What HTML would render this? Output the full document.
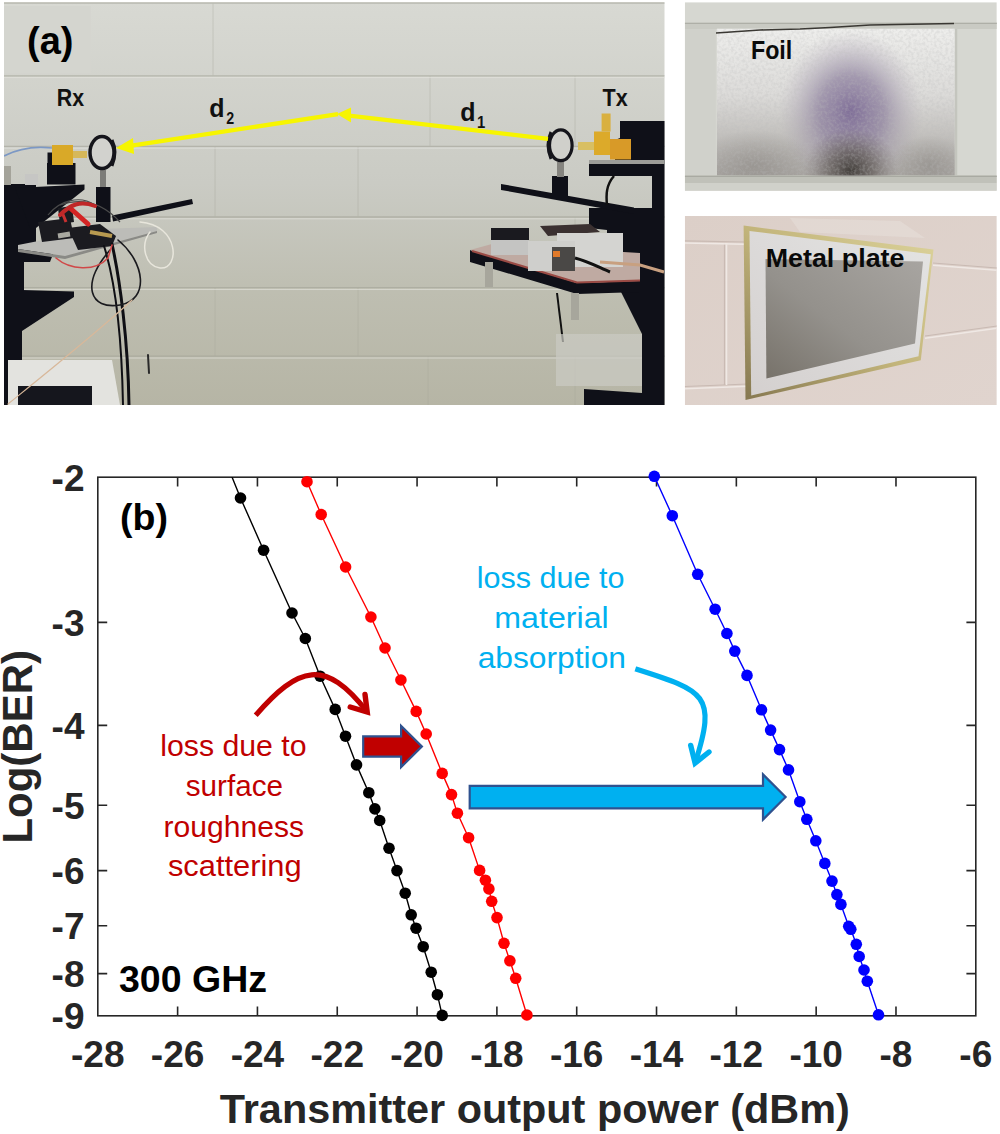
<!DOCTYPE html>
<html><head><meta charset="utf-8"><style>
html,body{margin:0;padding:0;background:#fff;overflow:hidden;}
svg{display:block;}
text{font-family:"Liberation Sans",sans-serif;}
</style></head><body>
<svg width="1000" height="1134" viewBox="0 0 1000 1134">
<defs><clipPath id="axclip"><rect x="97.8" y="477.2" width="878.0" height="538.5999999999999"/></clipPath></defs>
<defs>
 <linearGradient id="wallg" x1="0" y1="0" x2="0" y2="1">
  <stop offset="0" stop-color="#d8d9d3"/>
  <stop offset="0.45" stop-color="#cacbc4"/>
  <stop offset="0.72" stop-color="#bebeb1"/>
  <stop offset="1" stop-color="#b6b5a5"/>
 </linearGradient>
 <clipPath id="mainclip"><rect x="4" y="2" width="660.5" height="403"/></clipPath>
 <clipPath id="foilclip"><rect x="684.8" y="2.2" width="312" height="188.6"/></clipPath>
 <clipPath id="foilsheet"><rect x="716.8" y="28.4" width="238" height="147"/></clipPath>
 <clipPath id="plateclip"><rect x="684.8" y="216" width="312" height="189"/></clipPath>
 <radialGradient id="foilg" cx="0.55" cy="0.62" r="0.6" fx="0.56" fy="0.6">
  <stop offset="0" stop-color="#85789a"/>
  <stop offset="0.35" stop-color="#958aa2"/>
  <stop offset="0.7" stop-color="#b9b6b8"/>
  <stop offset="1" stop-color="#dcdcda"/>
 </radialGradient>
 <linearGradient id="foilbot" x1="0" y1="0" x2="0" y2="1">
  <stop offset="0" stop-color="#5a544c" stop-opacity="0"/>
  <stop offset="0.55" stop-color="#5a544c" stop-opacity="0"/>
  <stop offset="1" stop-color="#5a544c" stop-opacity="0.55"/>
 </linearGradient>
 <linearGradient id="metalg" x1="1" y1="0" x2="0" y2="1">
  <stop offset="0" stop-color="#a8a5a1"/>
  <stop offset="0.55" stop-color="#94918c"/>
  <stop offset="1" stop-color="#77726a"/>
 </linearGradient>
 <linearGradient id="platewall" x1="0" y1="0" x2="1" y2="1">
  <stop offset="0" stop-color="#dccfc8"/>
  <stop offset="1" stop-color="#e0d4ce"/>
 </linearGradient>
 <linearGradient id="foilbase" x1="0" y1="0" x2="0" y2="1">
  <stop offset="0" stop-color="#eeeeec"/>
  <stop offset="0.45" stop-color="#dcdbd9"/>
  <stop offset="1" stop-color="#a9a6a2"/>
 </linearGradient>
 <radialGradient id="foilpurple">
  <stop offset="0" stop-color="#7c6a96" stop-opacity="0.95"/>
  <stop offset="0.45" stop-color="#8a7c9c" stop-opacity="0.7"/>
  <stop offset="1" stop-color="#b0a8b4" stop-opacity="0"/>
 </radialGradient>
 <radialGradient id="foildark">
  <stop offset="0" stop-color="#3e3a36" stop-opacity="0.95"/>
  <stop offset="0.5" stop-color="#5c5650" stop-opacity="0.6"/>
  <stop offset="1" stop-color="#7a7470" stop-opacity="0"/>
 </radialGradient>
 <radialGradient id="foilgrey">
  <stop offset="0" stop-color="#8c8884" stop-opacity="0.6"/>
  <stop offset="1" stop-color="#8c8884" stop-opacity="0"/>
 </radialGradient>
 <filter id="foiltex" x="0" y="0" width="1" height="1">
  <feTurbulence type="fractalNoise" baseFrequency="0.35" numOctaves="2" seed="3"/>
  <feColorMatrix type="matrix" values="0 0 0 0 0.5  0 0 0 0 0.5  0 0 0 0 0.5  0 0 0 3 -1.2"/>
  <feComposite in2="SourceGraphic" operator="in"/>
 </filter>
 <linearGradient id="goldg" x1="1" y1="0" x2="0" y2="1">
  <stop offset="0" stop-color="#ddd49c"/>
  <stop offset="0.5" stop-color="#c2b47a"/>
  <stop offset="1" stop-color="#857750"/>
 </linearGradient>
 <linearGradient id="matg" x1="1" y1="0" x2="0" y2="1">
  <stop offset="0" stop-color="#e4e4e3"/>
  <stop offset="1" stop-color="#d4d0cf"/>
 </linearGradient>
</defs>

<!-- ===== MAIN PHOTO ===== -->
<g clip-path="url(#mainclip)">
 <rect x="4" y="2" width="661" height="403" fill="url(#wallg)"/>
 <!-- mortar lines -->
 <g stroke="#a3a498" stroke-width="1.3" fill="none" opacity="0.6">
  <path d="M4,3.2H665M4,75.8H665M4,146.4H665M4,217H665M4,287.6H665M4,356.2H665"/>
  <path d="M213,3V76M575,76V146M430,76V146M215,146V217M358,146V217M358,287V356M215,287V356M575,217V287M575,356V405M428,356V405" stroke-width="1" opacity="0.6"/>
 </g>
 <g stroke="#e2e3dd" stroke-width="1" fill="none" opacity="0.7">
  <path d="M4,77.6H665M4,148.2H665M4,218.8H665M4,289.4H665M4,358H665"/>
 </g>

 <rect x="4" y="6" width="86.7" height="67.2" fill="#d4d5cf"/>
 <!-- ===== Rx side ===== -->
 <g fill="#0f1018">
  <!-- left column -->
  <path d="M4,184 L36,184 L36,262 L24,262 L24,292 L22,292 L22,362 L11,362 L11,405 L4,405 Z"/>
  <!-- upper bracket -->
  <path d="M15,188 L84.5,184.5 L84.5,189.5 L36,228 L30,228 Z"/>
  <!-- under plate arm -->
  <path d="M4,249 L55,249 L50,262 L4,262 Z"/>
  <!-- lower bracket -->
  <path d="M22,290 L74,291.5 L74,297 L22,331 Z"/>
  <!-- mount under gold -->
  <rect x="47" y="163" width="28.5" height="21.5"/>
  <rect x="47.5" y="152.5" width="10" height="12"/>
  <!-- lens post -->
  <rect x="96" y="187" width="14.5" height="35"/>
  <!-- rail -->
  <path d="M112,215.5 L192,199 L193,204 L113,221.5 Z"/>

  <!-- breadboard -->
  <rect x="18" y="386" width="74" height="20"/>
 </g>
 <!-- white paper bottom -->
 <path d="M8,360 L112,360 L120,405 L8,405 Z" fill="#e3e3df"/>
 <rect x="18" y="386" width="74" height="20" fill="#15161d"/>
 <!-- plate -->
 <path d="M18,245 L100,229 L157,227 L157,231 L65,256 L18,249 Z" fill="#bcbcb8"/>
 <path d="M18,249 L65,256 L157,231 L157,233 L65,259 L18,252 Z" fill="#8a8a86"/>
 <!-- cluster on plate -->
 <g fill="#1b1b20">
  <path d="M38,222 L70,218 L74,238 L42,242 Z"/>
  <path d="M68,228 L100,224 L116,236 L112,246 L78,250 Z"/>
  <path d="M58,208 L72,206 L74,222 L60,224 Z"/>
 </g>
 <path d="M70,208 L88,224" stroke="#d42424" stroke-width="5" stroke-linecap="round"/>
 <path d="M62,212 L66,222" stroke="#c83030" stroke-width="3"/>
 <path d="M90,232 L112,236" stroke="#b89a50" stroke-width="4"/>
 <path d="M58,236 L70,234" stroke="#a8a8a0" stroke-width="5"/>
 <g fill="none" stroke="#4a4a4a" stroke-width="1.2">
  <path d="M60,205 C80,198 100,200 120,222"/>
  <path d="M48,215 C60,200 80,195 95,205"/>
 </g>
 <!-- silver cylinder -->
 <rect x="25" y="174" width="13" height="11" fill="#c6c6c4"/>
 <rect x="4" y="166" width="7" height="19" fill="#a4a39a"/>
 <!-- stem -->
 <rect x="100" y="170" width="6" height="17" fill="#7c7c78"/>
 <!-- gold block -->
 <rect x="52" y="145" width="21" height="20" fill="#d9a928"/>
 <rect x="73" y="151" width="14" height="7" fill="#d6b85a"/>
 <!-- blue cable -->
 <path d="M4,156 Q25,145 52,148" stroke="#7c98c4" stroke-width="1.6" fill="none"/>
 <!-- lens ring -->
 <ellipse cx="102" cy="152.6" rx="12" ry="16" fill="#d2d2ce" stroke="#15151b" stroke-width="3.5"/>
 <path d="M112,140 Q118,152 112,166" stroke="#15151b" stroke-width="3" fill="none"/>
 <!-- cables -->
 <g fill="none" stroke-linecap="round">
  <path d="M112,244 C120,280 128,340 129,405" stroke="#0f0f14" stroke-width="3"/>
  <path d="M104,246 C118,290 122,350 123,405" stroke="#0f0f14" stroke-width="2"/>
  <path d="M110,250 C80,285 90,310 120,305 C150,300 145,262 118,240" stroke="#1a1a1e" stroke-width="1.6"/>
  <path d="M56,258 C70,270 95,272 108,258 L112,245" stroke="#d04848" stroke-width="1.6"/>
  <path d="M140,222 C180,225 180,270 160,268 C145,266 140,245 150,232" stroke="#e8e6dc" stroke-width="1.5"/>
  <path d="M8,404 C50,370 100,330 132,300" stroke="#d8b89a" stroke-width="1.2"/>
  <path d="M60,215 C70,205 80,200 95,206" stroke="#c02828" stroke-width="4"/>
  <path d="M148,355 L149,373" stroke="#2a2a2a" stroke-width="2"/>
 </g>

 <!-- ===== Tx side ===== -->
 <g fill="#0f1018">
  <!-- dark column & structure -->
  <path d="M652,176 L665,176 L665,405 L584,405 L584,389 L642,393 L642,334 L610,270 L607,270 L607,230 L589,228 L589,208 L652,208 Z"/>
  <!-- shelf -->
  <rect x="589" y="160" width="76" height="16"/>
  <!-- black equipment -->
  <path d="M620,121 L665,121 L665,160 L615,160 L615,140 L620,138 Z"/>
  <!-- rail -->
  <path d="M501,184 L634,207.5 L634,214 L501,190 Z"/>
  <!-- lens mount -->
  <rect x="552" y="176" width="16" height="22"/>
  <!-- platform front edge -->
  <path d="M470,250 L577,283 L640,281 L640,292 L577,294 L470,262 Z"/>
 </g>
 <rect x="589" y="160" width="76" height="4" fill="#9c9c98"/>
 <!-- legs -->
 <rect x="485" y="262" width="8" height="25" fill="#a7a69c"/>
 <rect x="571" y="293" width="8" height="27" fill="#a7a69c"/>
 <path d="M557,293 L563,342" stroke="#111" stroke-width="2"/>
 <!-- light box -->
 <path d="M556,334 L642,334 L642,386 L556,386 Z" fill="#cbcbc3" opacity="0.7"/>
 <!-- platform top surface -->
 <path d="M470,250 L492,244 L640,253 L640,281 L577,283 Z" fill="#bfaaa2"/>
 <path d="M472,251 L577,282.5 L640,280.5" stroke="#9a4a44" stroke-width="2.2" fill="none"/>
 <!-- equipment on platform -->
 <rect x="491" y="228" width="38" height="12" fill="#1a1a1f"/>
 <rect x="491" y="240" width="38" height="15" fill="#c4c4c2"/>
 <path d="M540,226 L590,224 L600,232 L548,236 Z" fill="#3a3030"/>
 <rect x="557" y="233" width="66" height="34" fill="#d4d4d1"/>
 <rect x="528" y="241" width="47" height="30" fill="#cfcfcc"/>
 <rect x="552" y="247" width="23" height="24" fill="#4a4846"/>
 <rect x="553" y="251" width="7" height="6" fill="#e07a2a"/>
 <path d="M575,258 C590,262 600,268 610,272" stroke="#111" stroke-width="3" fill="none"/>
 <path d="M600,262 L640,265 L664,272" stroke="#c8a080" stroke-width="3" fill="none"/>
 <!-- gold Tx -->
 <rect x="578" y="142" width="16" height="8" fill="#d8bf62"/>
 <rect x="594" y="131.5" width="16" height="23.5" fill="#dcaa2a"/>
 <rect x="610" y="139" width="21" height="20.5" fill="#d89a28"/>
 <rect x="601.6" y="113.5" width="9" height="18" fill="#d9b040"/>
 <!-- stem -->
 <rect x="557" y="162" width="7" height="15" fill="#85847f"/>
 <!-- lens ring Tx -->
 <ellipse cx="560.8" cy="145.3" rx="11.3" ry="15.4" fill="#d0d0cb" stroke="#15151b" stroke-width="3.2"/>
 <path d="M551,132 Q545,145 551,159" stroke="#15151b" stroke-width="3" fill="none"/>
 <!-- Tx cable -->
 <path d="M614,176 C606,185 606,195 607,205" stroke="#111" stroke-width="2.5" fill="none"/>

 <!-- ===== yellow beams ===== -->
 <g stroke="#f7f500" stroke-width="4.3" fill="none" stroke-linecap="butt">
  <path d="M548,138.8 L349,115.6"/>
  <path d="M338,114.2 L130,145.8"/>
 </g>
 <g fill="#f7f500">
  <path d="M337,114 L351,107.5 L351,122.5 Z"/>
  <path d="M116,148 L133,138 L134,154 Z"/>
 </g>
 <!-- labels -->
 <g font-family="Liberation Sans" font-weight="bold" fill="#111">
  <text transform="translate(56.7,105.6) scale(0.873,1)" font-size="24.5">Rx</text>
  <text transform="translate(602.5,105.6) scale(0.88,1)" font-size="24.5">Tx</text>
  <text transform="translate(209.3,117.25) scale(0.96,1)" font-size="26">d</text>
  <text transform="translate(226.25,124) scale(0.89,1)" font-size="16">2</text>
  <text transform="translate(460.3,121) scale(0.96,1)" font-size="26">d</text>
  <text transform="translate(477.1,128) scale(0.875,1)" font-size="17">1</text>
  <text x="27" y="54.2" font-size="38" fill="#000">(a)</text>
 </g>
</g>

<!-- ===== FOIL PHOTO ===== -->
<g clip-path="url(#foilclip)">
 <rect x="684.8" y="2.2" width="312" height="188.6" fill="#d6d7d1"/>
 <rect x="684.8" y="22" width="312" height="7" fill="#c9cac3"/>
 <path d="M684.8,23.5H997" stroke="#aeafa7" stroke-width="1.2"/>
 <rect x="684.8" y="175" width="312" height="8" fill="#c0c1b9"/>
 <path d="M684.8,176.5H997" stroke="#a9aaa2" stroke-width="1.2"/>
 <rect x="684.8" y="183" width="312" height="8" fill="#d0d1ca"/>
 <rect x="684.8" y="29" width="31" height="146" fill="#d0d1cb"/>
 <path d="M956,29V175" stroke="#c4c5be" stroke-width="2.5"/>
 <g clip-path="url(#foilsheet)">
 <rect x="716.8" y="28.4" width="238" height="147" fill="url(#foilbase)"/>
 <ellipse cx="851" cy="112" rx="72" ry="82" fill="url(#foilpurple)"/>
 <ellipse cx="851" cy="170" rx="48" ry="42" fill="url(#foildark)"/>
 <ellipse cx="755" cy="165" rx="60" ry="35" fill="url(#foilgrey)"/>
 <ellipse cx="930" cy="165" rx="40" ry="30" fill="url(#foilgrey)"/>
 <rect x="716.8" y="28.4" width="238" height="147" fill="#888" filter="url(#foiltex)" opacity="0.25"/>
 </g>
 <path d="M716,33 L760,30 L800,29 L830,27.5 L870,25 L954,23.5" stroke="#3a3833" stroke-width="1.6" fill="none"/>
 <text transform="translate(750.95,59) scale(0.9,1)" font-family="Liberation Sans" font-weight="bold" font-size="25.8" fill="#0a0a0a">Foil</text>
</g>

<!-- ===== METAL PLATE PHOTO ===== -->
<g clip-path="url(#plateclip)">
 <rect x="684.8" y="216" width="312" height="189" fill="url(#platewall)"/>
 <g stroke="#c9bab3" stroke-width="1.2" fill="none">
  <path d="M684.8,240.8 L745,242 M933,263 L997,268 M684.8,386.5 L748,384 M925,336 L997,326 M724.5,243 V385"/>
 </g>
 <g stroke="#efe8e4" stroke-width="1.6" fill="none">
  <path d="M684.8,243 L745,244.2 M933,265.2 L997,270.2 M684.8,388.7 L748,386.2 M925,338.2 L997,328.2 M726.5,243 V385"/>
 </g>
 <path d="M790,218 L900,221 L925,238 L800,232 Z" fill="#f0ebe8" opacity="0.3"/>
 <path d="M743.6,225.6 L933.5,249.6 L920.8,360.3 L745.5,400 Z" fill="url(#goldg)"/>
 <path d="M749.5,231 L930.8,254.2 L918.5,356.2 L751.2,395.5 Z" fill="url(#matg)"/>
 <path d="M765.5,259 L923,261.5 L915,343.5 L766.4,378.5 Z" fill="url(#metalg)"/>
 <text transform="translate(765.7,266.7) scale(1.033,1)" font-family="Liberation Sans" font-weight="bold" font-size="26" fill="#0a0a0a">Metal plate</text>
</g>

<rect x="97.8" y="477.2" width="878.0" height="538.5999999999999" fill="none" stroke="#262626" stroke-width="1.6"/>
<path d="M177.62,1015.8V1006.4M177.62,477.2V486.59999999999997M257.44,1015.8V1006.4M257.44,477.2V486.59999999999997M337.25,1015.8V1006.4M337.25,477.2V486.59999999999997M417.07,1015.8V1006.4M417.07,477.2V486.59999999999997M496.89,1015.8V1006.4M496.89,477.2V486.59999999999997M576.71,1015.8V1006.4M576.71,477.2V486.59999999999997M656.53,1015.8V1006.4M656.53,477.2V486.59999999999997M736.35,1015.8V1006.4M736.35,477.2V486.59999999999997M816.16,1015.8V1006.4M816.16,477.2V486.59999999999997M895.98,1015.8V1006.4M895.98,477.2V486.59999999999997M97.8,622.39H107.2M975.8,622.39H966.4M97.8,725.41H107.2M975.8,725.41H966.4M97.8,805.32H107.2M975.8,805.32H966.4M97.8,870.61H107.2M975.8,870.61H966.4M97.8,925.81H107.2M975.8,925.81H966.4M97.8,973.62H107.2M975.8,973.62H966.4" stroke="#262626" stroke-width="1.6" fill="none"/>
<path d="M229.5,470.8 L240.5,498.0 L263.6,550.2 L292.0,613.0 L305.3,638.5 L320.1,676.2 L335.2,709.4 L345.5,736.2 L356.5,764.9 L368.8,792.7 L374.9,808.9 L379.7,820.5 L389.0,848.2 L397.0,870.6 L405.2,893.2 L411.2,914.8 L416.0,928.2 L423.2,946.7 L431.2,972.2 L437.4,994.7 L442.2,1015.4" fill="none" stroke="#000" stroke-width="1.4" stroke-linejoin="round" clip-path="url(#axclip)"/>
<path d="M307.0,481.7 L321.2,514.5 L345.6,567.0 L370.9,617.0 L385.0,648.0 L400.9,680.0 L416.2,711.4 L426.2,734.0 L442.2,773.4 L451.5,794.6 L457.4,813.2 L468.6,837.7 L479.6,870.4 L485.4,880.2 L488.9,888.9 L491.7,901.3 L497.0,917.6 L504.0,943.3 L509.9,960.8 L515.7,978.3 L526.9,1015.0" fill="none" stroke="#f00" stroke-width="1.4" stroke-linejoin="round" clip-path="url(#axclip)"/>
<path d="M654.3,476.3 L672.3,515.7 L697.7,574.3 L715.1,609.2 L726.9,633.5 L734.8,651.1 L747.0,675.4 L761.5,709.8 L770.6,730.1 L779.5,749.6 L788.5,769.9 L799.8,801.7 L806.8,819.3 L815.8,840.8 L824.8,863.4 L832.0,881.1 L836.9,894.6 L840.9,904.4 L848.7,926.3 L850.8,929.3 L856.3,944.3 L859.2,956.5 L864.0,970.0 L867.3,981.2 L878.5,1014.8" fill="none" stroke="#00f" stroke-width="1.4" stroke-linejoin="round" clip-path="url(#axclip)"/>
<g fill="#000"><circle cx="240.5" cy="498.0" r="5.8"/><circle cx="263.6" cy="550.2" r="5.8"/><circle cx="292.0" cy="613.0" r="5.8"/><circle cx="305.3" cy="638.5" r="5.8"/><circle cx="320.1" cy="676.2" r="5.8"/><circle cx="335.2" cy="709.4" r="5.8"/><circle cx="345.5" cy="736.2" r="5.8"/><circle cx="356.5" cy="764.9" r="5.8"/><circle cx="368.8" cy="792.7" r="5.8"/><circle cx="374.9" cy="808.9" r="5.8"/><circle cx="379.7" cy="820.5" r="5.8"/><circle cx="389.0" cy="848.2" r="5.8"/><circle cx="397.0" cy="870.6" r="5.8"/><circle cx="405.2" cy="893.2" r="5.8"/><circle cx="411.2" cy="914.8" r="5.8"/><circle cx="416.0" cy="928.2" r="5.8"/><circle cx="423.2" cy="946.7" r="5.8"/><circle cx="431.2" cy="972.2" r="5.8"/><circle cx="437.4" cy="994.7" r="5.8"/><circle cx="442.2" cy="1015.4" r="5.8"/></g>
<g fill="#f00"><circle cx="307.0" cy="481.7" r="5.8"/><circle cx="321.2" cy="514.5" r="5.8"/><circle cx="345.6" cy="567.0" r="5.8"/><circle cx="370.9" cy="617.0" r="5.8"/><circle cx="385.0" cy="648.0" r="5.8"/><circle cx="400.9" cy="680.0" r="5.8"/><circle cx="416.2" cy="711.4" r="5.8"/><circle cx="426.2" cy="734.0" r="5.8"/><circle cx="442.2" cy="773.4" r="5.8"/><circle cx="451.5" cy="794.6" r="5.8"/><circle cx="457.4" cy="813.2" r="5.8"/><circle cx="468.6" cy="837.7" r="5.8"/><circle cx="479.6" cy="870.4" r="5.8"/><circle cx="485.4" cy="880.2" r="5.8"/><circle cx="488.9" cy="888.9" r="5.8"/><circle cx="491.7" cy="901.3" r="5.8"/><circle cx="497.0" cy="917.6" r="5.8"/><circle cx="504.0" cy="943.3" r="5.8"/><circle cx="509.9" cy="960.8" r="5.8"/><circle cx="515.7" cy="978.3" r="5.8"/><circle cx="526.9" cy="1015.0" r="5.8"/></g>
<g fill="#00f"><circle cx="654.3" cy="476.3" r="5.8"/><circle cx="672.3" cy="515.7" r="5.8"/><circle cx="697.7" cy="574.3" r="5.8"/><circle cx="715.1" cy="609.2" r="5.8"/><circle cx="726.9" cy="633.5" r="5.8"/><circle cx="734.8" cy="651.1" r="5.8"/><circle cx="747.0" cy="675.4" r="5.8"/><circle cx="761.5" cy="709.8" r="5.8"/><circle cx="770.6" cy="730.1" r="5.8"/><circle cx="779.5" cy="749.6" r="5.8"/><circle cx="788.5" cy="769.9" r="5.8"/><circle cx="799.8" cy="801.7" r="5.8"/><circle cx="806.8" cy="819.3" r="5.8"/><circle cx="815.8" cy="840.8" r="5.8"/><circle cx="824.8" cy="863.4" r="5.8"/><circle cx="832.0" cy="881.1" r="5.8"/><circle cx="836.9" cy="894.6" r="5.8"/><circle cx="840.9" cy="904.4" r="5.8"/><circle cx="848.7" cy="926.3" r="5.8"/><circle cx="850.8" cy="929.3" r="5.8"/><circle cx="856.3" cy="944.3" r="5.8"/><circle cx="859.2" cy="956.5" r="5.8"/><circle cx="864.0" cy="970.0" r="5.8"/><circle cx="867.3" cy="981.2" r="5.8"/><circle cx="878.5" cy="1014.8" r="5.8"/></g>
<g font-family="Liberation Sans" font-weight="bold" font-size="37" fill="#262626">
<text x="84.5" y="490.8" text-anchor="end">-2</text><text x="84.5" y="636.0" text-anchor="end">-3</text><text x="84.5" y="739.0" text-anchor="end">-4</text><text x="84.5" y="818.9" text-anchor="end">-5</text><text x="84.5" y="884.2" text-anchor="end">-6</text><text x="84.5" y="939.4" text-anchor="end">-7</text><text x="84.5" y="987.2" text-anchor="end">-8</text><text x="84.5" y="1029.4" text-anchor="end">-9</text><text x="97.8" y="1067" text-anchor="middle">-28</text><text x="177.6" y="1067" text-anchor="middle">-26</text><text x="257.4" y="1067" text-anchor="middle">-24</text><text x="337.3" y="1067" text-anchor="middle">-22</text><text x="417.1" y="1067" text-anchor="middle">-20</text><text x="496.9" y="1067" text-anchor="middle">-18</text><text x="576.7" y="1067" text-anchor="middle">-16</text><text x="656.5" y="1067" text-anchor="middle">-14</text><text x="736.3" y="1067" text-anchor="middle">-12</text><text x="816.2" y="1067" text-anchor="middle">-10</text><text x="896.0" y="1067" text-anchor="middle">-8</text><text x="975.8" y="1067" text-anchor="middle">-6</text></g>
<text x="534.8" y="1123" text-anchor="middle" font-family="Liberation Sans" font-weight="bold" font-size="41.4" fill="#262626">Transmitter output power (dBm)</text>
<text transform="translate(32.3,746.8) rotate(-90)" text-anchor="middle" font-family="Liberation Sans" font-weight="bold" font-size="42" fill="#262626">Log(BER)</text>
<text x="120" y="530" font-family="Liberation Sans" font-weight="bold" font-size="37.5" fill="#000">(b)</text>
<text x="119" y="992" font-family="Liberation Sans" font-weight="bold" font-size="37.5" fill="#000">300 GHz</text>
<g font-family="Liberation Sans" font-size="30" fill="#c00000"><text transform="translate(160.18,756) scale(1.0098,1)">loss due to</text><text transform="translate(185.70,796) scale(0.9887,1)">surface</text><text transform="translate(163.60,836.5) scale(1.0022,1)">roughness</text><text transform="translate(167.90,876.4) scale(1.0288,1)">scattering</text></g>
<g font-family="Liberation Sans" font-size="30" fill="#00b0f0"><text transform="translate(476.66,587.7) scale(1.0190,1)">loss due to</text><text transform="translate(494.25,628) scale(1.0728,1)">material</text><text transform="translate(477.64,668.3) scale(1.0597,1)">absorption</text></g>
<path d="M255.70,715.20 C298.57,666.10 325.05,657.72 367.20,712.00" fill="none" stroke="#c00000" stroke-width="5.2" stroke-linecap="butt"/>
<path d="M365,694.4 L367.2,712 L350.25,707" fill="none" stroke="#c00000" stroke-width="5.4" stroke-linecap="round" stroke-linejoin="miter" stroke-miterlimit="10"/>
<path d="M363.2,736.35 H401.1 V725.9 L421.9,746.4 L401.1,767.1 V756.65 H363.2 Z" fill="#c00000" stroke="#2f528f" stroke-width="2.2" stroke-miterlimit="10"/>
<path d="M635.30,668.90 C705.01,690.92 717.17,694.56 695.10,763.10" fill="none" stroke="#00b0f0" stroke-width="5.2" stroke-linecap="butt"/>
<path d="M690.7,745.4 L695.1,763.1 L709,752" fill="none" stroke="#00b0f0" stroke-width="5.4" stroke-linecap="round" stroke-linejoin="miter" stroke-miterlimit="10"/>
<path d="M469.7,785.9 H763 V774.4 L785.6,797 L763,819.6 V808.4 H469.7 Z" fill="#00b0f0" stroke="#2f528f" stroke-width="2.2" stroke-miterlimit="10"/>

</svg></body></html>
